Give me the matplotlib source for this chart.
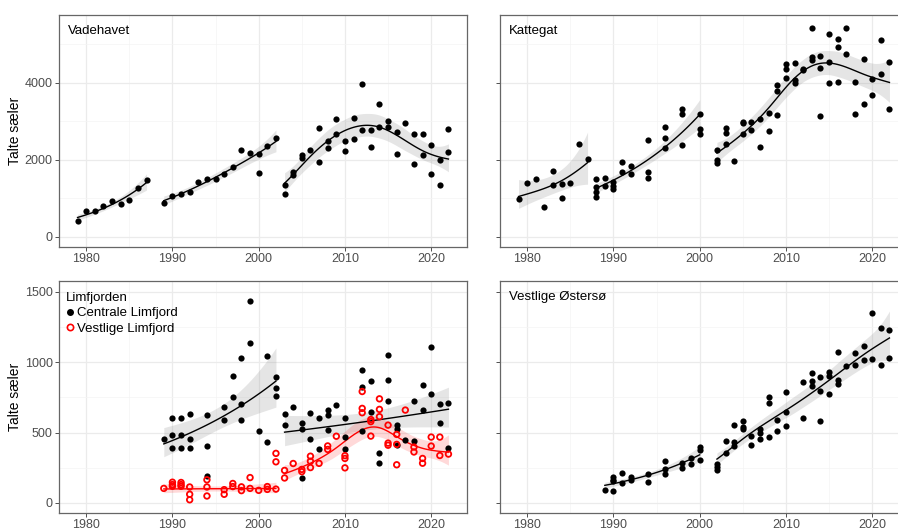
import numpy as np
import matplotlib.pyplot as plt
from matplotlib.lines import Line2D

plt.rcParams['font.family'] = ['Liberation Sans', 'DejaVu Sans']

# Vadehavet
vad_year = [1979, 1980, 1981, 1982, 1983, 1984, 1985, 1986, 1987,
            1989, 1990, 1991, 1992, 1993, 1994, 1995, 1996, 1997, 1998, 1999, 2000, 2000, 2001, 2002,
            2003, 2003, 2004, 2004, 2005, 2005, 2006, 2007, 2007, 2008, 2008, 2009, 2009, 2010, 2010,
            2011, 2011, 2012, 2012, 2013, 2013, 2014, 2014, 2015, 2015, 2016, 2016, 2017, 2018, 2018,
            2019, 2019, 2020, 2020, 2021, 2021, 2022, 2022]
vad_count = [416, 667, 658, 788, 918, 849, 953, 1264, 1472,
             866, 1048, 1100, 1160, 1429, 1498, 1507, 1628, 1801, 2252, 2182, 2148, 1654, 2364, 2563,
             1351, 1100, 1680, 1593, 2113, 2044, 2243, 2815, 1931, 2485, 2295, 3057, 2659, 2485, 2226,
             3092, 2546, 3958, 2763, 2763, 2338, 3438, 2858, 3014, 2840, 2728, 2148, 2962, 2667, 1879,
             2667, 2113, 2373, 1628, 1983, 1351, 2789, 2208]
vad_periods = [(1979, 1987), (1989, 2002), (2003, 2022)]

# Kattegat
kat_year = [1979, 1980, 1981, 1982, 1983, 1983, 1984, 1984, 1985, 1986, 1987,
            1988, 1988, 1988, 1988, 1989, 1989, 1990, 1990, 1990, 1991, 1991, 1992, 1992,
            1994, 1994, 1994, 1996, 1996, 1996, 1998, 1998, 1998, 2000, 2000, 2000,
            2002, 2002, 2002, 2003, 2003, 2003, 2004, 2005, 2005, 2005, 2006, 2006, 2007, 2007,
            2008, 2008, 2009, 2009, 2009, 2010, 2010, 2010, 2011, 2011, 2011, 2012, 2012,
            2013, 2013, 2013, 2014, 2014, 2014, 2015, 2015, 2015, 2016, 2016, 2016, 2017, 2017,
            2018, 2018, 2019, 2019, 2020, 2020, 2021, 2021, 2022, 2022]
kat_count = [987, 1403, 1490, 779, 1706, 1342, 1360, 1005, 1403, 2407, 2026,
             1491, 1299, 1169, 1039, 1533, 1315, 1412, 1320, 1240, 1945, 1671, 1830, 1637,
             2515, 1671, 1533, 2840, 2572, 2295, 3312, 3195, 2378, 3183, 2793, 2655,
             2260, 2000, 1905, 2832, 2693, 2407, 1974, 2979, 2944, 2667, 2970, 2780, 3062, 2335,
             3200, 2742, 3936, 3790, 3156, 4486, 4365, 4114, 4512, 4070, 4001, 4347, 4321,
             5413, 4659, 4590, 4702, 4382, 3126, 5274, 4538, 3992, 5127, 4936, 4010, 5421, 4746,
             4027, 3178, 4616, 3438, 4096, 3689, 5118, 4235, 4529, 3308]
kat_periods = [(1979, 1987), (1988, 2000), (2002, 2022)]

# Limfjorden - Centrale Limfjord
cen_year = [1989, 1990, 1990, 1990, 1991, 1991, 1991, 1992, 1992, 1992, 1994, 1994, 1994,
            1996, 1996, 1997, 1997, 1998, 1998, 1998, 1999, 1999, 2000, 2001, 2001, 2002, 2002, 2002,
            2003, 2003, 2004, 2005, 2005, 2005, 2006, 2006, 2007, 2007, 2008, 2008, 2008, 2009,
            2010, 2010, 2010, 2012, 2012, 2012, 2013, 2013, 2014, 2014, 2015, 2015, 2015,
            2016, 2016, 2016, 2017, 2018, 2018, 2019, 2019, 2020, 2020, 2021, 2021, 2022, 2022]
cen_count = [456, 602, 483, 391, 602, 483, 391, 634, 451, 391, 622, 404, 190,
             683, 592, 904, 752, 1028, 700, 590, 1435, 1137, 513, 1044, 436, 895, 818, 762,
             634, 557, 684, 570, 523, 174, 639, 453, 601, 382, 663, 625, 518, 698,
             604, 472, 382, 947, 825, 512, 867, 644, 354, 287, 1053, 876, 727,
             552, 524, 412, 446, 728, 443, 836, 664, 1106, 777, 706, 571, 708, 391]
cen_period = [1] * 28 + [2] * 41

# Limfjorden - Vestlige Limfjord (two 2002 counts are outside both trend periods)
vest_year = [1989, 1990, 1990, 1990, 1991, 1991, 1991, 1992, 1992, 1992, 1994, 1994, 1994,
             1996, 1996, 1997, 1997, 1998, 1998, 1999, 1999, 2000, 2001, 2001, 2002, 2002, 2002,
             2003, 2003, 2004, 2005, 2005, 2006, 2006, 2006, 2007, 2008, 2008, 2009,
             2010, 2010, 2010, 2012, 2012, 2012, 2013, 2013, 2013, 2014, 2014, 2014,
             2015, 2015, 2015, 2016, 2016, 2016, 2017, 2018, 2018, 2019, 2019, 2020, 2020,
             2021, 2021, 2022]
vest_count = [103, 147, 130, 118, 145, 130, 118, 113, 61, 22, 164, 113, 49,
              94, 61, 138, 116, 114, 87, 180, 103, 89, 116, 96, 352, 292, 98,
              231, 177, 280, 238, 222, 332, 296, 251, 281, 405, 380, 474,
              336, 316, 249, 792, 672, 641, 593, 578, 475, 740, 665, 613,
              553, 425, 410, 487, 416, 271, 660, 397, 362, 316, 282, 468, 404,
              468, 337, 347]
vest_period = [1] * 24 + [0, 0, 1] + [2] * 40

# Vestlige Østersø
ost_year = [1989, 1990, 1990, 1990, 1990, 1991, 1991, 1992, 1992, 1994, 1994,
            1996, 1996, 1996, 1998, 1998, 1999, 1999, 2000, 2000, 2000,
            2002, 2002, 2002, 2003, 2003, 2004, 2004, 2004, 2005, 2005, 2005, 2006, 2006,
            2007, 2007, 2007, 2008, 2008, 2008, 2009, 2009, 2010, 2010, 2010, 2012, 2012,
            2013, 2013, 2013, 2014, 2014, 2014, 2015, 2015, 2015, 2016, 2016, 2016, 2017,
            2018, 2018, 2019, 2019, 2020, 2020, 2021, 2021, 2022, 2022]
ost_count = [95, 187, 166, 154, 81, 211, 138, 187, 164, 202, 152,
             299, 240, 204, 287, 247, 320, 278, 399, 377, 308,
             278, 254, 233, 437, 356, 555, 430, 406, 584, 539, 524, 475, 415,
             527, 498, 453, 752, 710, 472, 586, 510, 788, 643, 548, 857, 605,
             921, 869, 828, 897, 797, 584, 933, 899, 776, 1075, 876, 842, 975,
             1063, 982, 1118, 1016, 1350, 1020, 1246, 982, 1232, 1027]
ost_periods = [(1989, 2000), (2002, 2022)]


def bspline(x, xl, xr, nseg, deg=3):
    dx = (xr - xl) / nseg
    knots = xl + dx * np.arange(-deg, nseg + deg + 1)
    x = np.clip(x, xl, xr - 1e-9)[:, None]
    B = ((x >= knots[None, :-1]) & (x < knots[None, 1:])).astype(float)
    for k in range(1, deg + 1):
        left = (x - knots[None, :-(k + 1)]) / (knots[k:-1] - knots[:-(k + 1)])
        right = (knots[None, k + 1:] - x) / (knots[k + 1:] - knots[1:-k])
        B = left * B[:, :-1] + right * B[:, 1:]
    return B


def gam_fit(x, y, grid):
    # penalised spline on log counts, smoothing chosen by REML, back-transformed
    x = np.asarray(x, float)
    ly = np.log(np.asarray(y, float))
    n = len(x)
    xl, xr = x.min(), x.max()
    nseg = 7
    X = bspline(x, xl, xr, nseg)
    nb = X.shape[1]
    D = np.diff(np.eye(nb), 2, axis=0)
    S = D.T @ D
    XtX, Xty = X.T @ X, X.T @ ly
    best = None
    for lam in np.logspace(-3, 7, 300):
        A = XtX + lam * S
        beta = np.linalg.solve(A, Xty)
        rss = np.sum((ly - X @ beta) ** 2)
        Dp = rss + lam * beta @ S @ beta
        crit = (n - 2) * np.log(Dp) + np.linalg.slogdet(A)[1] - (nb - 2) * np.log(lam)
        if best is None or crit < best[0]:
            best = (crit, beta, A, rss)
    _, beta, A, rss = best
    Ainv = np.linalg.inv(A)
    edf = np.trace(Ainv @ XtX)
    sigma2 = rss / (n - edf)
    G = bspline(np.asarray(grid, float), xl, xr, nseg)
    eta = G @ beta
    se = np.sqrt(sigma2 * np.einsum('ij,jk,ik->i', G, Ainv, G))
    return np.exp(eta), np.exp(eta - 1.98 * se), np.exp(eta + 1.98 * se)


def smooth(ax, years, counts, labels, color, fill, alpha):
    years = np.asarray(years)
    counts = np.asarray(counts)
    labels = np.asarray(labels)
    for p in np.unique(labels[labels > 0]):
        m = labels == p
        grid = np.linspace(years[m].min(), years[m].max(), 80)
        fit, lo, hi = gam_fit(years[m], counts[m], grid)
        ax.fill_between(grid, lo, hi, color=fill, alpha=alpha, lw=0, zorder=2)
        ax.plot(grid, fit, color=color, lw=1.0, zorder=4)


def period_labels(years, periods):
    lab = np.zeros(len(years), int)
    for i, (a, b) in enumerate(periods):
        lab[(np.asarray(years) >= a) & (np.asarray(years) <= b)] = i + 1
    return lab


def style(ax, ylim, yticks, yminor, show_y):
    ax.set_xlim(1976.85, 2024.15)
    ax.set_ylim(*ylim)
    ax.set_xticks([1980, 1990, 2000, 2010, 2020])
    ax.set_xticks([1985, 1995, 2005, 2015], minor=True)
    ax.set_yticks(yticks)
    ax.set_yticks(yminor, minor=True)
    ax.grid(which='major', color='#EBEBEB', lw=0.9)
    ax.grid(which='minor', color='#F4F4F4', lw=0.5)
    ax.set_axisbelow(True)
    ax.tick_params(which='major', direction='out', length=3, width=0.6, color='#333333',
                   labelcolor='#4D4D4D', labelsize=9, pad=1.5)
    ax.tick_params(which='minor', length=0)
    ax.tick_params(axis='y', labelleft=show_y)
    for s in ax.spines.values():
        s.set_color('#666666')
        s.set_linewidth(0.9)
    if show_y:
        ax.set_ylabel('Talte sæler', fontsize=10)
        ax.yaxis.set_label_coords(-0.09, 0.5)


fig = plt.figure(figsize=(8.98, 5.31), dpi=100)
W, H = 898, 531


def axes_at(x0, y0, w=408, h=232):
    return fig.add_axes([x0 / W, 1 - (y0 + h) / H, w / W, h / H])


ax1 = axes_at(59, 15)
ax2 = axes_at(500, 15)
ax3 = axes_at(59, 281)
ax4 = axes_at(500, 281)

top_lim = (-270, 5755)
bot_lim = (-72, 1578)

for ax, yr, ct, per in [(ax1, vad_year, vad_count, vad_periods),
                        (ax2, kat_year, kat_count, kat_periods),
                        (ax4, ost_year, ost_count, ost_periods)]:
    smooth(ax, yr, ct, period_labels(yr, per), 'black', '#999999', 0.25)
    ax.scatter(yr, ct, s=20, color='black', lw=0, zorder=5)

smooth(ax3, cen_year, cen_count, cen_period, 'black', '#999999', 0.25)
smooth(ax3, vest_year, vest_count, vest_period, 'red', 'red', 0.15)
ax3.scatter(cen_year, cen_count, s=20, color='black', lw=0, zorder=5)
ax3.scatter(vest_year, vest_count, s=16, facecolors='none', edgecolors='red', lw=1.3, zorder=6)

style(ax1, top_lim, [0, 2000, 4000], [1000, 3000, 5000], True)
style(ax2, top_lim, [0, 2000, 4000], [1000, 3000, 5000], False)
style(ax3, bot_lim, [0, 500, 1000, 1500], [250, 750, 1250], True)
style(ax4, bot_lim, [0, 500, 1000, 1500], [250, 750, 1250], False)

for ax, name in [(ax1, 'Vadehavet'), (ax2, 'Kattegat'), (ax4, 'Vestlige Østersø')]:
    ax.text(9 / 408, 1 - 10 / 232, name, transform=ax.transAxes, ha='left', va='top',
            fontsize=9.5, zorder=7)

handles = [Line2D([], [], ls='none', marker='o', ms=4, color='black'),
           Line2D([], [], ls='none', marker='o', ms=4.5, mfc='none', mec='red', mew=1.2)]
leg = ax3.legend(handles, ['Centrale Limfjord', 'Vestlige Limfjord'], title='Limfjorden',
                 loc='upper left', bbox_to_anchor=(0.0, 1 - 4 / 232), frameon=False, fontsize=9.5,
                 title_fontsize=9.5, handlelength=0.6, handletextpad=0.3, labelspacing=0.25,
                 borderaxespad=0.3, borderpad=0.2, alignment='left')
leg.set_zorder(8)

fig.savefig('out.png', dpi=100)
